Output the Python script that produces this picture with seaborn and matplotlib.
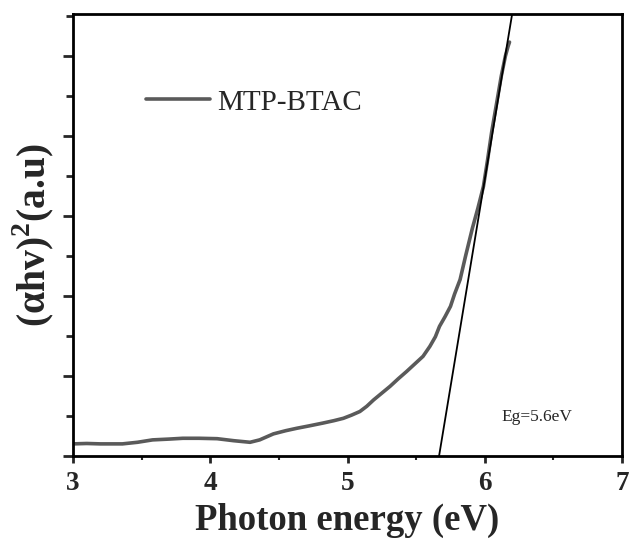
import matplotlib
matplotlib.use("Agg")
import matplotlib.pyplot as plt
import seaborn as sns
import pandas as pd
from matplotlib.ticker import MultipleLocator, NullFormatter

# Data
energy = [3.00, 3.10, 3.20, 3.36, 3.47, 3.58, 3.70, 3.80, 3.92, 4.05, 4.17, 4.29,
          4.36, 4.46, 4.55, 4.63, 4.72, 4.82, 4.90, 4.97, 5.03, 5.09, 5.14, 5.19,
          5.25, 5.31, 5.37, 5.43, 5.49, 5.55, 5.60, 5.64, 5.67, 5.71, 5.75, 5.78,
          5.82, 5.86, 5.91, 5.95, 5.99, 6.02, 6.05, 6.09, 6.12, 6.15, 6.17, 6.18]
absorb = [0.30, 0.31, 0.30, 0.30, 0.34, 0.40, 0.42, 0.44, 0.44, 0.43, 0.38, 0.34,
          0.40, 0.55, 0.63, 0.69, 0.75, 0.82, 0.88, 0.94, 1.02, 1.11, 1.24, 1.40,
          1.57, 1.74, 1.93, 2.11, 2.30, 2.49, 2.74, 2.98, 3.24, 3.48, 3.74, 4.05,
          4.41, 5.00, 5.70, 6.20, 6.74, 7.40, 8.10, 8.90, 9.50, 10.00, 10.25, 10.35]
series_name = "MTP-BTAC"
tangent_x = [5.667, 6.20]
tangent_y = [0.0, 11.07]
eg_label = "Eg=5.6eV"
x_ticks = [3, 4, 5, 6, 7]

df = pd.DataFrame({"energy": energy, "absorb": absorb, "series": series_name})

sns.set_style("ticks")
plt.rcParams["font.family"] = ["Liberation Serif", "DejaVu Serif"]
plt.rcParams["mathtext.fontset"] = "custom"
plt.rcParams["mathtext.rm"] = "Liberation Serif"
plt.rcParams["mathtext.bf"] = "Liberation Serif:bold"

fig = plt.figure(figsize=(6.29, 5.44), dpi=100)
ax = fig.add_axes([0.116, 0.162, 0.873, 0.812])

sns.lineplot(data=df, x="energy", y="absorb", hue="series", palette=["#5a5a5a"],
             linewidth=2.6, ax=ax, sort=False)
ax.plot(tangent_x, tangent_y, color="black", linewidth=1.3)

ax.set_xlim(3, 7)
ax.set_ylim(0, 11.05)
ax.set_xticks(x_ticks)
ax.xaxis.set_minor_locator(MultipleLocator(0.5))
ax.yaxis.set_major_locator(MultipleLocator(2))
ax.yaxis.set_minor_locator(MultipleLocator(1))
ax.yaxis.set_major_formatter(NullFormatter())

for s in ax.spines.values():
    s.set_visible(True)
    s.set_linewidth(2.0)
    s.set_color("black")

ax.tick_params(axis="x", which="major", direction="out", length=5, width=2,
               labelsize=19.5, pad=6)
ax.tick_params(axis="x", which="minor", direction="out", length=3, width=1.5)
ax.tick_params(axis="y", which="major", direction="out", length=7, width=2)
ax.tick_params(axis="y", which="minor", direction="out", length=5, width=2)
for lab in ax.get_xticklabels():
    lab.set_fontweight("bold")

ax.set_xlabel("Photon energy (eV)", fontsize=26.5, fontweight="bold", labelpad=5)
ax.set_ylabel(r"(αhv)$^\mathbf{2}$(a.u)", fontsize=28.5, fontweight="bold", labelpad=1.5)

ax.text(6.38, 0.98, eg_label, fontsize=12.5, ha="center", va="center")

leg = ax.legend(loc="center left", bbox_to_anchor=(0.085, 0.80), frameon=False,
                fontsize=21, handlelength=2.2, handletextpad=0.25)

fig.savefig("out.png", dpi=100)
